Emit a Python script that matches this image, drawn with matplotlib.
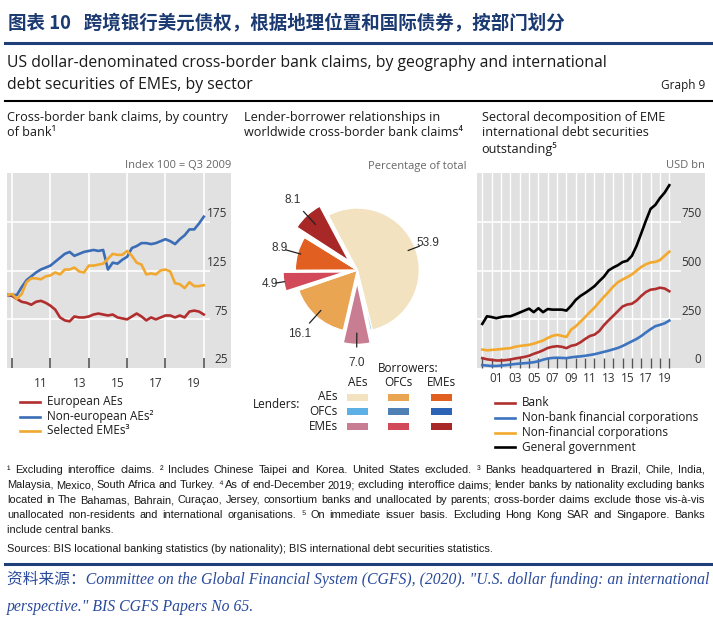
import numpy as np
import matplotlib
matplotlib.use("Agg")
import matplotlib.pyplot as plt
from matplotlib.lines import Line2D
from matplotlib.patches import Rectangle
import matplotlib.transforms as mtransforms

W, H = 713, 633
SANS = ['Open Sans', 'DejaVu Sans']
NARROW = ['Liberation Sans Narrow', 'Liberation Sans', 'DejaVu Sans']
CJK = ['Noto Sans CJK SC', 'DejaVu Sans']
SERIF_CJK = ['Liberation Serif', 'Noto Sans CJK SC']
plt.rcParams['font.family'] = SANS

GREY_BG = '#e1e1e1'
TXT = '#1a1a1a'
NAVY = '#1f3f7a'

# ---------------- data ----------------
# left panel: quarterly, Q3 2009 to Q4 2019, index 100 = Q3 2009
claims_t = 2009.75 + 0.25 * np.arange(42)
european_aes = [100, 99, 96, 93, 92, 90, 93, 94, 92, 89, 85, 77, 74, 73, 78, 77, 77, 78, 80, 81, 80,
                79, 80, 77, 76, 75, 78, 81, 78, 74, 77, 75, 77, 79, 79, 77, 79, 77, 83, 84, 83, 80]
non_european_aes = [100, 100, 100, 108, 115, 119, 123, 126, 128, 130, 134, 138, 142, 144, 140, 142, 144, 145, 146, 145, 146,
                    126, 133, 132, 136, 139, 148, 150, 153, 153, 152, 153, 155, 157, 155, 152, 157, 161, 167, 167, 173, 180]
selected_emes = [100, 101, 96, 101, 113, 117, 117, 116, 119, 120, 123, 121, 126, 126, 128, 124, 123, 130, 130, 131, 132,
                 137, 142, 141, 141, 145, 140, 133, 131, 121, 122, 121, 125, 126, 124, 112, 111, 107, 113, 109, 109, 110]
claims_names = ['European AEs', 'Non-european AEs²', 'Selected EMEs³']
claims_colors = ['#b22d2d', '#3a6db5', '#f0a830']

# middle panel: lender -> borrower shares, % of total, end-2019
pie_lenders = ['AEs', 'OFCs', 'EMEs']
pie_borrowers = ['AEs', 'OFCs', 'EMEs']
pie_values = [53.9, 0.5, 7.0,     # borrower AEs   (lender AEs, OFCs, EMEs)
              16.1, 0.3, 4.9,     # borrower OFCs
              8.9, 0.3, 8.1]      # borrower EMEs
pie_grid_colors = [['#f3e2bf', '#e9a552', '#e25f22'],   # lender AEs
                   ['#5db0e6', '#4f80b3', '#2c63b4'],   # lender OFCs
                   ['#c97d92', '#d24a5a', '#a82828']]   # lender EMEs

# right panel: semi-annual, 2000 to end-2019, USD bn
debt_t = 2000.0 + 0.5 * np.arange(41)
bank = [52, 46, 43, 40, 40, 42, 45, 50, 54, 58, 64, 74, 82, 92, 104, 110, 113, 110, 103, 115, 120,
        133, 150, 165, 172, 190, 220, 245, 268, 292, 316, 326, 330, 346, 370, 390, 402, 405, 412, 408, 394]
nonbank_fin = [16, 14, 12, 12, 14, 16, 19, 22, 24, 26, 28, 31, 36, 44, 50, 53, 54, 53, 52, 56, 59,
               61, 64, 68, 72, 78, 84, 90, 97, 104, 114, 126, 138, 150, 165, 183, 200, 215, 222, 230, 244]
nonfin_corp = [96, 92, 94, 96, 98, 101, 103, 110, 114, 117, 120, 126, 134, 142, 155, 166, 171, 166, 160, 198, 215,
               238, 262, 287, 310, 338, 365, 390, 418, 440, 454, 466, 480, 499, 518, 532, 541, 544, 553, 575, 596]
gen_gov = [227, 266, 262, 256, 262, 266, 266, 275, 285, 295, 305, 287, 307, 287, 303, 300, 300, 300, 295, 320, 350,
           370, 385, 402, 420, 445, 468, 500, 515, 527, 543, 550, 575, 626, 690, 755, 815, 835, 870, 898, 936]
debt_names = ['Bank', 'Non-bank financial corporations', 'Non-financial corporations', 'General government']
debt_colors = ['#b03030', '#3c74c0', '#f2a92e', '#000000']

notes = [
    '¹ Excluding interoffice claims.  ² Includes Chinese Taipei and Korea. United States excluded.  ³ Banks headquartered in Brazil, Chile, India,',
    'Malaysia, Mexico, South Africa and Turkey.  ⁴ As of end-December 2019; excluding interoffice claims; lender banks by nationality excluding banks',
    'located in The Bahamas, Bahrain, Curaçao, Jersey, consortium banks and unallocated by parents; cross-border claims exclude those vis-à-vis',
    'unallocated non-residents and international organisations.  ⁵ On immediate issuer basis. Excluding Hong Kong SAR and Singapore. Banks',
    'include central banks.',
]
sources = 'Sources: BIS locational banking statistics (by nationality); BIS international debt securities statistics.'

# ---------------- helpers ----------------
fig = plt.figure(figsize=(W / 100, H / 100), dpi=100)
renderer = fig.canvas.get_renderer()


def fx(x):
    return x / W


def fy(y):
    return 1 - y / H


def ftext(x, y, s, **kw):
    kw.setdefault('va', 'center')
    kw.setdefault('color', TXT)
    return fig.text(fx(x), fy(y), s, **kw)


def justify(y, line, x0, x1, **kw):
    # spread the words of one line over the full width, like the justified notes
    words = line.split()
    ts = [ftext(x0, y, w, **kw) for w in words]
    widths = [t.get_window_extent(renderer).width for t in ts]
    gap = (x1 - x0 - sum(widths)) / (len(words) - 1)
    if gap < 2.0:  # too long for the line: shrink it a bit
        scale = (x1 - x0 - 2.0 * (len(words) - 1)) / sum(widths)
        for t in ts:
            t.set_fontsize(t.get_fontsize() * scale)
        widths = [w * scale for w in widths]
        gap = 2.0
    x = x0
    for t, w in zip(ts, widths):
        t.set_x(fx(x))
        x += w + gap


def hrule(y, x0, x1, color, lw):
    fig.add_artist(Line2D([fx(x0), fx(x1)], [fy(y), fy(y)], color=color, lw=lw))


def grey_axes(x0, y0, x1, y1):
    ax = fig.add_axes([fx(x0), fy(y1), (x1 - x0) / W, (y1 - y0) / H])
    ax.set_facecolor(GREY_BG)
    for s in ax.spines.values():
        s.set_visible(False)
    return ax


def inner_ylabels(ax, ticks, fmt):
    tr = mtransforms.blended_transform_factory(ax.transAxes, ax.transData)
    for v in ticks:
        ax.annotate(fmt(v), xy=(0.985, v), xycoords=tr, xytext=(0, 6), textcoords='offset points',
                    ha='right', va='center', fontsize=8.5, color='#333333')


# ---------------- header ----------------
ftext(8, 24, '图表 10   跨境银行美元债权，根据地理位置和国际债券，按部门划分',
      family=CJK, weight='bold', size=13.3, color='#1c3a72')
hrule(43, 5, 713, NAVY, 2.2)
ftext(7, 63, 'US dollar-denominated cross-border bank claims, by geography and international', size=11.3)
ftext(7, 85, 'debt securities of EMEs, by sector', size=11.3)
ftext(705, 86, 'Graph 9', size=8.5, ha='right')
hrule(101, 5, 713, 'black', 1.5)

# ---------------- left panel ----------------
ftext(7, 117, 'Cross-border bank claims, by country', size=9.1)
ftext(7, 133, 'of bank¹', size=9.1)
ftext(231, 166, 'Index 100 = Q3 2009', size=8, ha='right', color='#666666')

ax1 = grey_axes(7.3, 172.7, 231, 368.3)
ax1.set_xlim(2009.75, 2021.42)
ax1.set_ylim(25, 225)
for yr in range(2010, 2021, 2):
    ax1.axvline(yr, color='white', lw=1.2, zorder=1)
ax1.hlines([75, 125, 175], 2009.75, 2020.35, color='white', lw=1.2, zorder=1)
for vals, c in zip([european_aes, non_european_aes, selected_emes], claims_colors):
    ax1.plot(claims_t, vals, color=c, lw=1.9, zorder=3)
ax1.set_xticks(range(2010, 2021, 2))
ax1.set_xticks(np.arange(2011.5, 2020, 2), minor=True)
ax1.set_xticklabels(['11', '13', '15', '17', '19'], minor=True)
ax1.tick_params(axis='x', which='major', direction='in', length=7, width=1.2, color='#555555', labelbottom=False)
ax1.tick_params(axis='x', which='minor', length=0, pad=6, labelsize=8.5, labelcolor='#333333')
ax1.set_yticks([])
inner_ylabels(ax1, [25, 75, 125, 175], lambda v: f'{v:d}')

for i, (name, c) in enumerate(zip(claims_names, claims_colors)):
    y = 402 + 14.5 * i
    fig.add_artist(Line2D([fx(20), fx(40)], [fy(y), fy(y)], color=c, lw=1.9))
    ftext(46.7, y, name, size=8.5)

# ---------------- middle panel (pie) ----------------
ftext(244, 117, 'Lender-borrower relationships in', size=9.1)
ftext(244, 133, 'worldwide cross-border bank claims⁴', size=9.1)
ftext(466, 166, 'Percentage of total', size=8, ha='right', color='#666666')

R_PX = 62.0
cx, cy = 357.3, 270.0
axp = fig.add_axes([fx(cx - 100), fy(cy + 100), 200 / W, 200 / H])
axp.axis('off')
slice_lenders = [i for b in range(3) for i in range(3)]
slice_borrowers = [b for b in range(3) for i in range(3)]
slice_colors = [pie_grid_colors[l][b] for l, b in zip(slice_lenders, slice_borrowers)]
explode = [0.2 if pie_lenders[l] == 'EMEs' else 0.0 for l in slice_lenders]
START = 118.0
wedges, _ = axp.pie(pie_values, colors=slice_colors, startangle=START, counterclock=False,
                    explode=explode, radius=1.0,
                    wedgeprops=dict(edgecolor='white', linewidth=1.0))
lim = 100 / R_PX
axp.set_xlim(-lim, lim)
axp.set_ylim(-lim, lim)
axp.set_aspect('equal')

# label placement: (label radius, leader start, leader end) in units of the pie radius
label_pos = {0: (1.22, 0.88, 1.07), 2: (1.50, 1.02, 1.24), 3: (1.38, 0.88, 1.15),
             5: (1.42, 1.19, 1.33), 6: (1.30, 0.95, 1.20), 8: (1.53, 1.00, 1.28)}
cum = np.cumsum([0] + pie_values)
for i, (lr, r0, r1) in label_pos.items():
    mid = np.deg2rad(START - 3.6 * (cum[i] + pie_values[i] / 2))
    ux, uy = np.cos(mid), np.sin(mid)
    axp.plot([r0 * ux, r1 * ux], [r0 * uy, r1 * uy], color='#222222', lw=0.9)
    axp.text(lr * ux, lr * uy, f'{pie_values[i]:.1f}', ha='center', va='center',
             family=NARROW, fontsize=8.5, color='#333333')

ftext(378, 368, 'Borrowers:', size=8.5)
col_x = [357.5, 398.5, 441]
row_y = [397, 411.5, 426.5]
for j, b in enumerate(pie_borrowers):
    ftext(col_x[j], 382, b, size=8.5, ha='center')
for i, l in enumerate(pie_lenders):
    ftext(338, row_y[i], l, size=8.5, ha='right')
    for j in range(3):
        fig.add_artist(Rectangle((fx(col_x[j] - 10.5), fy(row_y[i] + 3.5)), 21 / W, 7 / H,
                                 transform=fig.transFigure, color=pie_grid_colors[i][j], lw=0))
ftext(253, 404, 'Lenders:', size=8.5)

# ---------------- right panel ----------------
ftext(481.7, 117, 'Sectoral decomposition of EME', size=9.1)
ftext(481.7, 133, 'international debt securities', size=9.1)
ftext(481.7, 149, 'outstanding⁵', size=9.1)
ftext(705, 166, 'USD bn', size=8, ha='right', color='#666666')

ax3 = grey_axes(476.7, 172.7, 705, 368.3)
ax3.set_xlim(1999.4, 2023.82)
ax3.set_ylim(0, 1000)
for yr in range(2000, 2021):
    ax3.axvline(yr, color='white', lw=1.0, zorder=1)
ax3.hlines([250, 500, 750], 1999.4, 2021.3, color='white', lw=1.2, zorder=1)
for vals, c in zip([bank, nonbank_fin, nonfin_corp, gen_gov], debt_colors):
    ax3.plot(debt_t, vals, color=c, lw=1.9, zorder=3)
ax3.set_xticks(range(2000, 2021))
ax3.set_xticks(np.arange(2001.5, 2020, 2), minor=True)
ax3.set_xticklabels([f'{y % 100:02d}' for y in range(2001, 2020, 2)], minor=True)
ax3.tick_params(axis='x', which='major', direction='in', length=7, width=1.0, color='#555555', labelbottom=False)
ax3.tick_params(axis='x', which='minor', length=0, pad=3, labelsize=8.5, labelcolor='#333333')
ax3.set_yticks([])
inner_ylabels(ax3, [0, 250, 500, 750], lambda v: f'{v:d}')

for i, (name, c) in enumerate(zip(debt_names, debt_colors)):
    y = 403 + 14.8 * i
    fig.add_artist(Line2D([fx(495), fx(515)], [fy(y), fy(y)], color=c, lw=1.9))
    ftext(521.7, y, name, size=8.5)

# ---------------- footnotes ----------------
for i, line in enumerate(notes):
    if i < len(notes) - 1:
        justify(470 + 15.1 * i, line, 7, 705, family=NARROW, size=7.9)
    else:
        ftext(7, 470 + 15.1 * i, line, family=NARROW, size=7.9)
ftext(7, 549.5, sources, family=NARROW, size=7.9)
hrule(563.5, 5, 713, NAVY, 2.2)
ftext(7, 579, '资料来源：Committee on the Global Financial System (CGFS), (2020). "U.S. dollar funding: an international',
      family=SERIF_CJK, style='italic', size=11.3, color='#2a4a9c')
ftext(7, 607, 'perspective." BIS CGFS Papers No 65.', family=SERIF_CJK, style='italic', size=11.3, color='#2a4a9c')

fig.savefig('out.png', dpi=100)
